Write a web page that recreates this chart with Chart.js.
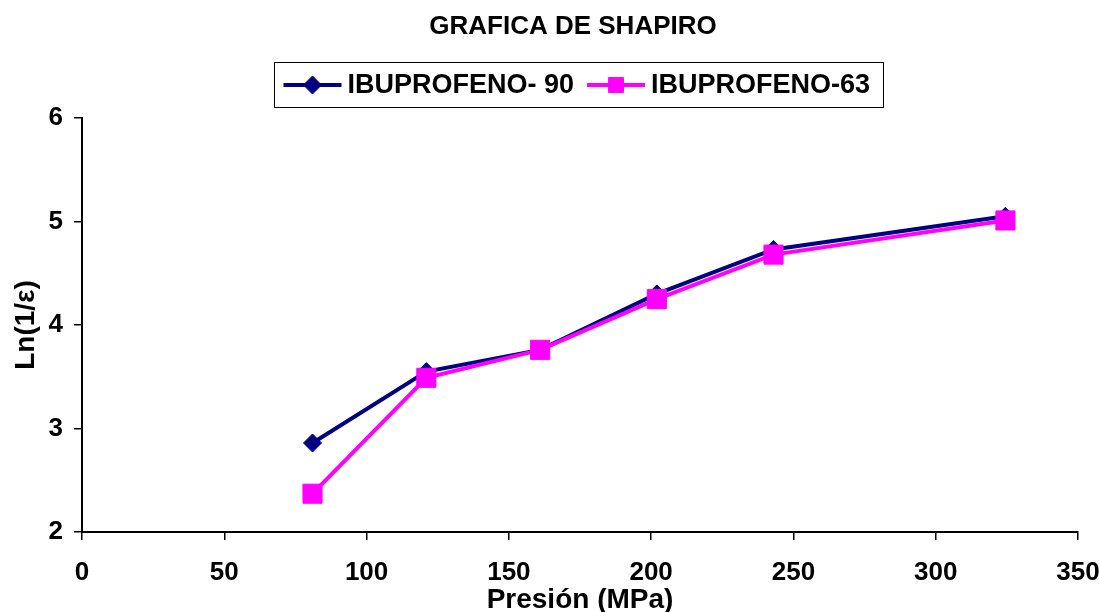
<!DOCTYPE html>
<html>
<head>
<meta charset="utf-8">
<script src="https://cdn.jsdelivr.net/npm/chart.js@4.4.1/dist/chart.umd.min.js"></script>
<style>
  html, body { margin: 0; padding: 0; background: #fff; }
  #wrap { width: 1099px; height: 612px; position: relative; }
</style>
</head>
<body>
<div id="wrap"><canvas id="c" width="1099" height="612"></canvas></div>
<script>
// Compaction pressures (MPa) and Shapiro values Ln(1/ε) for each powder
const pressures90 = [81, 121, 161, 202, 243, 324.5];
const lnIbu90     = [2.86, 3.55, 3.76, 4.30, 4.73, 5.05];
const pressures63 = [81, 121, 161, 202, 243, 324.5];
const lnIbu63     = [2.37, 3.49, 3.76, 4.25, 4.68, 5.01];
const seriesNames = ['IBUPROFENO- 90', 'IBUPROFENO-63'];
const chartTitle  = 'GRAFICA DE SHAPIRO';
const xTitle      = 'Presión (MPa)';
const yTitle      = 'Ln(1/ε)';

const FONT = '"Liberation Sans", Arial, sans-serif';
const NAVY = '#000080';
const MAGENTA = '#FF00FF';

const toPoints = (xs, ys) => xs.map((x, i) => ({ x: x, y: ys[i] }));

// Title and boxed legend (line + marker samples) drawn above the plot
const headerPlugin = {
  id: 'header',
  afterDraw(chart) {
    const ctx = chart.ctx;
    const area = chart.chartArea;
    ctx.save();
    ctx.fillStyle = '#000';
    ctx.textBaseline = 'middle';
    ctx.textAlign = 'center';
    ctx.font = 'bold 26px ' + FONT;
    ctx.fillText(chartTitle, 573, 27);

    ctx.font = 'bold 27px ' + FONT;
    const sample = 58, gapText = 6, gapItem = 13, padL = 9, padR = 13;
    const items = chart.data.datasets;
    let total = padL + padR;
    items.forEach((ds, k) => {
      total += sample + gapText + ctx.measureText(ds.label).width;
      if (k < items.length - 1) total += gapItem;
    });
    const cx = (area.left + area.right) / 2;
    const left = Math.round(cx - total / 2) - 1.5;
    const top = 62.5, h = 45;
    ctx.lineWidth = 1;
    ctx.strokeStyle = '#000';
    ctx.strokeRect(left, top, Math.round(total), h);
    const cy = top + h / 2;
    let x = left + padL;
    ctx.textAlign = 'left';
    items.forEach((ds) => {
      ctx.strokeStyle = ds.borderColor;
      ctx.lineWidth = 4;
      ctx.beginPath();
      ctx.moveTo(x, cy);
      ctx.lineTo(x + sample, cy);
      ctx.stroke();
      ctx.fillStyle = ds.pointBackgroundColor;
      ctx.strokeStyle = ds.pointBorderColor;
      ctx.lineWidth = 1;
      Chart.helpers.drawPoint(ctx, {
        pointStyle: ds.pointStyle,
        radius: ds.legendRadius,
        borderWidth: 1
      }, x + sample / 2, cy);
      x += sample + gapText;
      ctx.fillStyle = '#000';
      ctx.fillText(ds.label, x, cy + 1);
      x += ctx.measureText(ds.label).width + gapItem;
    });
    ctx.restore();
  }
};

new Chart(document.getElementById('c'), {
  type: 'scatter',
  data: {
    datasets: [
      {
        label: seriesNames[0],
        data: toPoints(pressures90, lnIbu90),
        showLine: true,
        borderColor: NAVY,
        backgroundColor: NAVY,
        pointBackgroundColor: NAVY,
        pointBorderColor: NAVY,
        borderWidth: 4,
        pointStyle: 'rectRot',
        pointRadius: 9,
        pointBorderWidth: 1,
        legendRadius: 9,
        order: 1
      },
      {
        label: seriesNames[1],
        data: toPoints(pressures63, lnIbu63),
        showLine: true,
        borderColor: MAGENTA,
        backgroundColor: MAGENTA,
        pointBackgroundColor: MAGENTA,
        pointBorderColor: MAGENTA,
        borderWidth: 4,
        pointStyle: 'rect',
        pointRadius: 13.5,
        pointBorderWidth: 1,
        legendRadius: 10.5,
        order: 0
      }
    ]
  },
  options: {
    responsive: false,
    animation: false,
    layout: { padding: { left: 0, right: 21, top: 118, bottom: 0 } },
    plugins: {
      legend: { display: false },
      title: { display: false },
      tooltip: { enabled: false }
    },
    scales: {
      x: {
        type: 'linear',
        min: 0,
        max: 350,
        afterFit(scale) {
          scale.height = 80;
          scale.paddingLeft = 0;
          scale.paddingRight = 0;
        },
        ticks: {
          stepSize: 50,
          color: '#000',
          font: { family: FONT, size: 26, weight: 'bold' },
          padding: 17,
          maxRotation: 0
        },
        grid: {
          display: true,
          drawOnChartArea: false,
          drawTicks: true,
          tickLength: 8,
          color: '#000',
          lineWidth: 1.5
        },
        border: { display: true, color: '#000', width: 2 },
        title: {
          display: true,
          text: xTitle,
          color: '#000',
          font: { family: FONT, size: 28, weight: 'bold' },
          padding: { top: 0, bottom: -5 }
        }
      },
      y: {
        type: 'linear',
        min: 2,
        max: 6,
        afterFit(scale) {
          scale.width = 82;
          scale.paddingTop = 0;
          scale.paddingBottom = 0;
        },
        ticks: {
          stepSize: 1,
          color: '#000',
          font: { family: FONT, size: 26, weight: 'bold' },
          padding: 11
        },
        grid: {
          display: true,
          drawOnChartArea: false,
          drawTicks: true,
          tickLength: 8,
          color: '#000',
          lineWidth: 1.5
        },
        border: { display: true, color: '#000', width: 2 },
        title: {
          display: true,
          text: yTitle,
          color: '#000',
          font: { family: FONT, size: 28, weight: 'bold' },
          padding: { top: 9, bottom: 0 }
        }
      }
    }
  },
  plugins: [headerPlugin]
});
</script>
</body>
</html>
